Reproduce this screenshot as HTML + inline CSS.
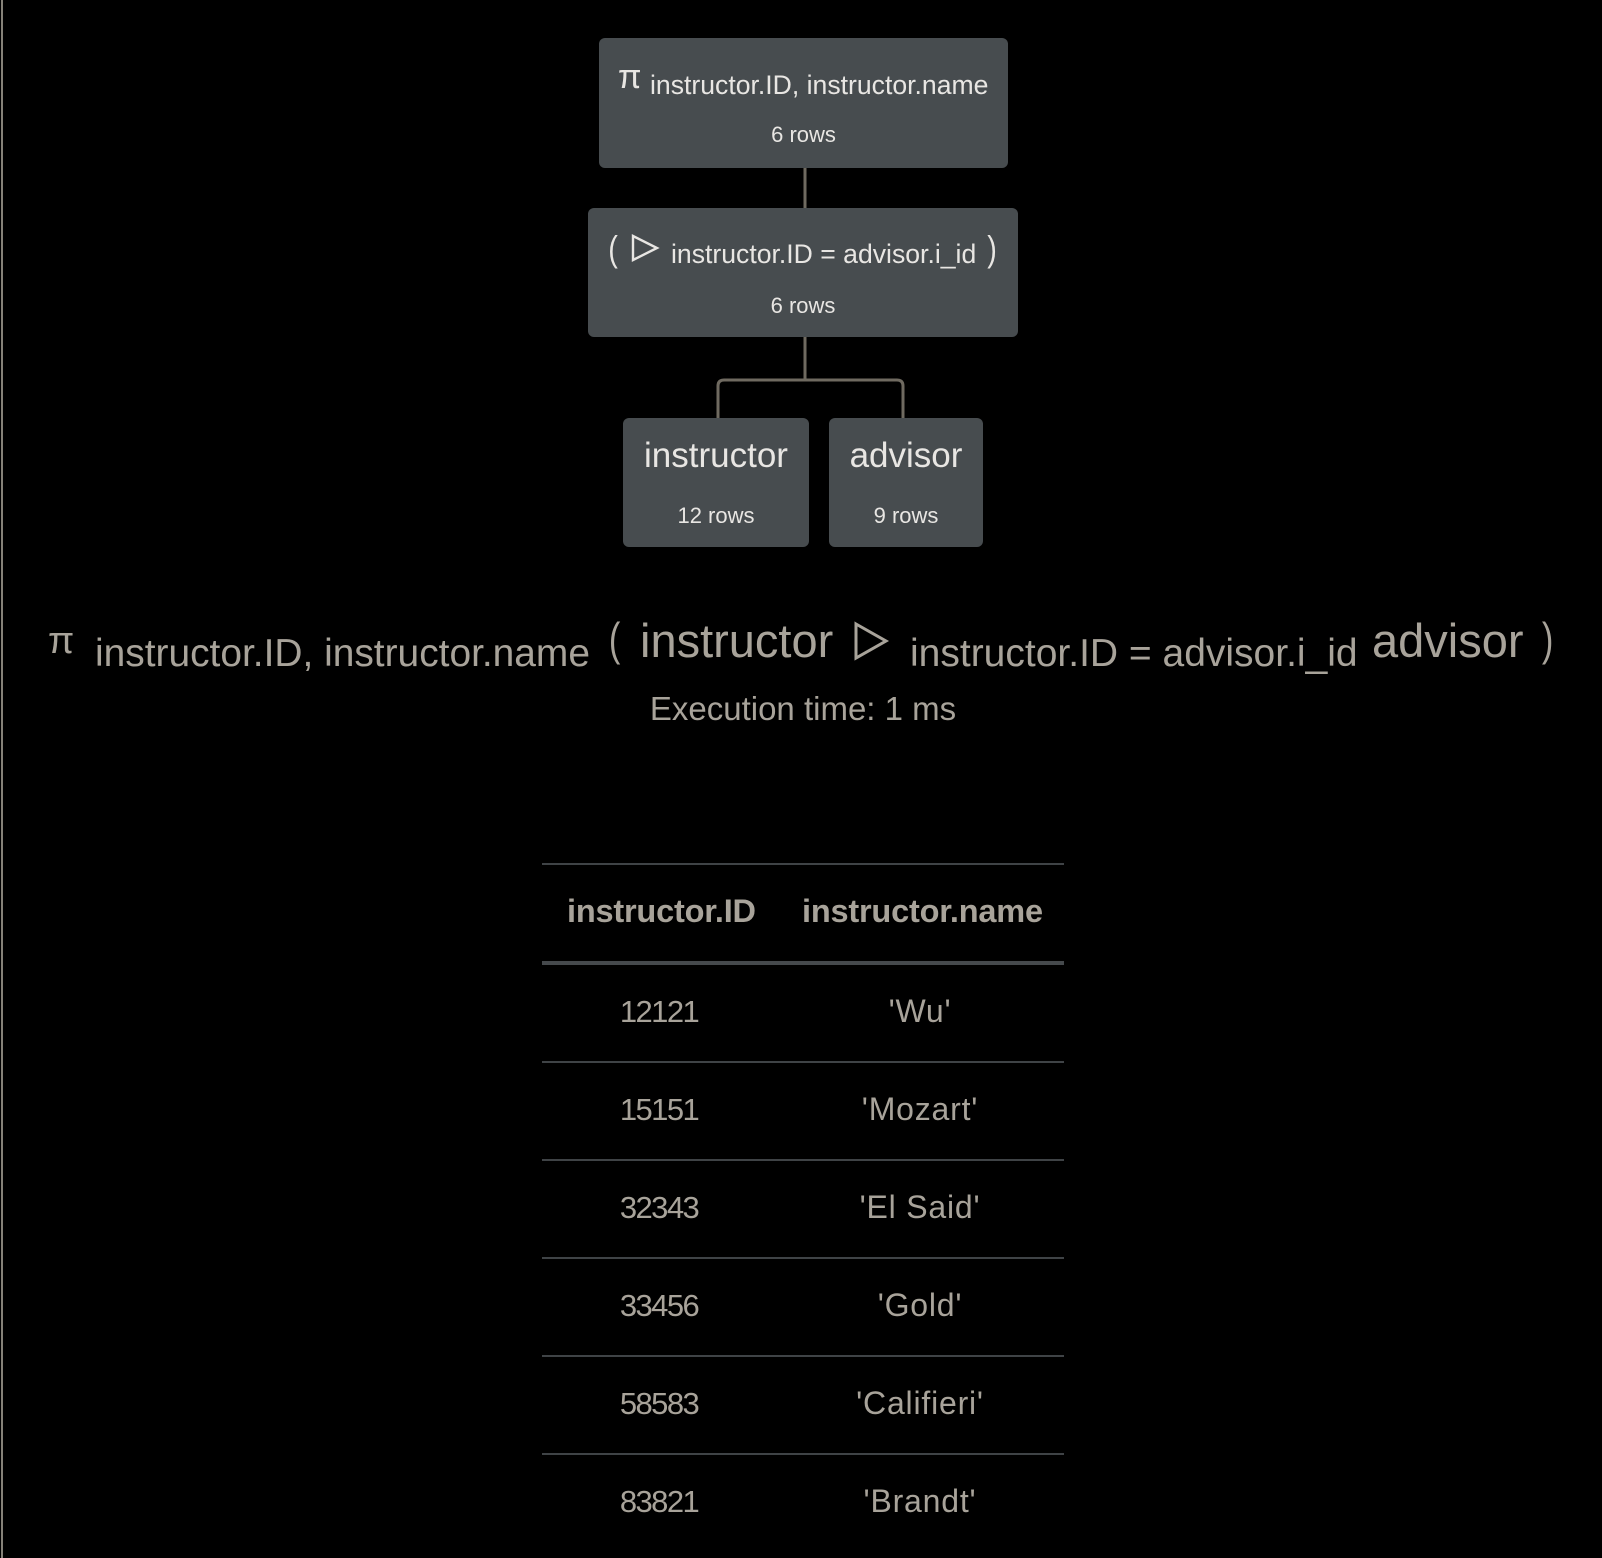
<!DOCTYPE html>
<html><head><meta charset="utf-8"><style>
html,body{margin:0;padding:0;background:#000;width:1602px;height:1558px;overflow:hidden;font-family:"Liberation Sans",sans-serif;}
.a{position:absolute;white-space:nowrap;}
.box{position:absolute;background:#474c4f;border-radius:6px;}
.nt{color:#e8e6e3;}
.g{color:#a8a39a;}
.c{text-align:center;}
.line{position:absolute;left:542px;width:522px;height:2px;background:#3f4346;}
.d{font-size:31px;letter-spacing:-1.6px;}
.n{font-size:32px;letter-spacing:0.8px;}
</style></head><body>
<div class="a" style="left:1px;top:0;width:2px;height:1558px;background:#858178"></div>

<svg class="a" style="left:0;top:0" width="1602" height="560">
<path d="M805 168 V208 M805 337 V380 M718 418 V386 Q718 380 724 380 H897 Q903 380 903 386 V418" stroke="#6f6a60" stroke-width="3" fill="none"/>
</svg>

<div class="box" style="left:599px;top:38px;width:409px;height:130px"></div>
<div class="a nt" style="left:618px;top:58px;font-size:34px">π</div>
<div class="a nt" style="left:650px;top:70px;font-size:26.6px">instructor.ID, instructor.name</div>
<div class="a nt c" style="left:599px;width:409px;top:122px;font-size:22px">6 rows</div>

<div class="box" style="left:588px;top:208px;width:430px;height:129px"></div>
<div class="a nt" style="left:607px;top:228px;font-size:36px;transform:scaleX(0.8)">(</div>
<svg class="a" style="left:630px;top:233px" width="32" height="32"><path d="M3 3 L27 15 L3 27 Z" stroke="#e8e6e3" stroke-width="2.4" fill="none"/></svg>
<div class="a nt" style="left:671px;top:239px;font-size:26.6px">instructor.ID = advisor.i_id</div>
<div class="a nt" style="left:986px;top:228px;font-size:36px;transform:scaleX(0.8)">)</div>
<div class="a nt c" style="left:588px;width:430px;top:293px;font-size:22px">6 rows</div>

<div class="box" style="left:623px;top:418px;width:186px;height:129px"></div>
<div class="a nt c" style="left:623px;width:186px;top:436px;font-size:35px">instructor</div>
<div class="a nt c" style="left:623px;width:186px;top:503px;font-size:22px">12 rows</div>

<div class="box" style="left:829px;top:418px;width:154px;height:129px"></div>
<div class="a nt c" style="left:829px;width:154px;top:436px;font-size:35px">advisor</div>
<div class="a nt c" style="left:829px;width:154px;top:503px;font-size:22px">9 rows</div>

<div class="a g" style="left:48px;top:620px;font-size:38px">π</div>
<div class="a g" style="left:95px;top:632px;font-size:38.9px">instructor.ID, instructor.name</div>
<div class="a g" style="left:607px;top:612px;font-size:46px;transform:scaleX(0.75)">(</div>
<div class="a g" style="left:640px;top:613px;font-size:47px">instructor</div>
<svg class="a" style="left:852px;top:620px" width="40" height="44"><path d="M4 4 L34 21 L4 38 Z" stroke="#a8a39a" stroke-width="3" fill="none"/></svg>
<div class="a g" style="left:910px;top:632px;font-size:39px">instructor.ID = advisor.i_id</div>
<div class="a g" style="left:1372px;top:613px;font-size:47px">advisor</div>
<div class="a g" style="left:1540px;top:612px;font-size:46px;transform:scaleX(0.75)">)</div>
<div class="a g c" style="left:0;width:1606px;top:690px;font-size:33px">Execution time: 1 ms</div>

<div class="line" style="top:863px"></div>
<div class="a g" style="left:567px;top:893px;font-size:32.5px;font-weight:bold;letter-spacing:-0.2px">instructor.ID</div>
<div class="a g" style="left:802px;top:893px;font-size:32.5px;font-weight:bold;letter-spacing:-0.2px">instructor.name</div>
<div class="line" style="top:961px;height:4px;background:#45494c"></div>

<div class="a g c d" style="left:559px;width:200px;top:994px">12121</div>
<div class="a g c n" style="left:820px;width:200px;top:993px">'Wu'</div>
<div class="line" style="top:1061px"></div>
<div class="a g c d" style="left:559px;width:200px;top:1092px">15151</div>
<div class="a g c n" style="left:820px;width:200px;top:1091px">'Mozart'</div>
<div class="line" style="top:1159px"></div>
<div class="a g c d" style="left:559px;width:200px;top:1190px">32343</div>
<div class="a g c n" style="left:820px;width:200px;top:1189px">'El Said'</div>
<div class="line" style="top:1257px"></div>
<div class="a g c d" style="left:559px;width:200px;top:1288px">33456</div>
<div class="a g c n" style="left:820px;width:200px;top:1287px">'Gold'</div>
<div class="line" style="top:1355px"></div>
<div class="a g c d" style="left:559px;width:200px;top:1386px">58583</div>
<div class="a g c n" style="left:820px;width:200px;top:1385px">'Califieri'</div>
<div class="line" style="top:1453px"></div>
<div class="a g c d" style="left:559px;width:200px;top:1484px">83821</div>
<div class="a g c n" style="left:820px;width:200px;top:1483px">'Brandt'</div>
</body></html>
